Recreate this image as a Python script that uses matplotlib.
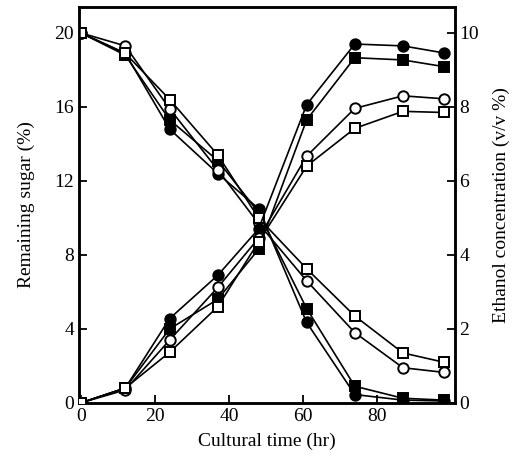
import matplotlib
matplotlib.use("Agg")
import matplotlib.pyplot as plt

plt.rcParams['font.family'] = ['Liberation Serif', 'DejaVu Serif']

time = [0, 12, 24, 37, 48, 61, 74, 87, 98]

# Remaining sugar (%) - left axis
sugar_fc = [20.0, 18.9, 14.8, 12.4, 10.5, 4.35, 0.45, 0.15, 0.1]   # filled circle
sugar_fs = [20.0, 18.8, 15.3, 13.1, 10.3, 5.1, 0.9, 0.25, 0.15]    # filled square
sugar_oc = [20.0, 19.3, 15.9, 12.6, 9.7, 6.6, 3.8, 1.9, 1.65]      # open circle
sugar_os = [20.0, 18.9, 16.4, 13.4, 10.0, 7.25, 4.7, 2.7, 2.2]     # open square

# Ethanol concentration (v/v %) - right axis
eth_fc = [0.0, 0.4, 2.28, 3.45, 4.7, 8.06, 9.7, 9.65, 9.46]
eth_fs = [0.0, 0.4, 2.0, 2.8, 4.15, 7.65, 9.33, 9.27, 9.09]
eth_oc = [0.0, 0.35, 1.7, 3.12, 4.45, 6.67, 7.96, 8.3, 8.22]
eth_os = [0.0, 0.4, 1.37, 2.6, 4.35, 6.4, 7.42, 7.88, 7.85]

x_ticks = [0, 20, 40, 60, 80]
left_ticks = [0, 4, 8, 12, 16, 20]
right_ticks = [0, 2, 4, 6, 8, 10]

fig = plt.figure(figsize=(5.30, 4.69), dpi=100)
ax = fig.add_axes([0.149, 0.141, 0.709, 0.844])
ax2 = ax.twinx()

styles = [
    (sugar_fc, eth_fc, 'o', 'black'),
    (sugar_fs, eth_fs, 's', 'black'),
    (sugar_oc, eth_oc, 'o', 'white'),
    (sugar_os, eth_os, 's', 'white'),
]
for s, e, m, fc in styles:
    ms = 7.5 if m == 'o' else 6.5
    ax.plot(time, s, color='black', lw=1.2, marker=m, ms=ms,
            mfc=fc, mec='black', mew=1.4, zorder=3)
    ax2.plot(time, e, color='black', lw=1.2, marker=m, ms=ms,
             mfc=fc, mec='black', mew=1.4, zorder=3)

ax.set_xlim(-0.5, 101)
ax.set_ylim(0, 21.4)
ax2.set_ylim(0, 10.7)

ax.set_xticks(x_ticks)
ax.set_yticks(left_ticks)
ax2.set_yticks(right_ticks)

for a in (ax, ax2):
    for sp in a.spines.values():
        sp.set_linewidth(1.8)
    a.tick_params(direction='in', length=6, width=1.3, labelsize=14)

ax.set_xlabel('Cultural time (hr)', fontsize=14, labelpad=6)
ax.set_ylabel('Remaining sugar (%)', fontsize=14, labelpad=14)
ax2.set_ylabel('Ethanol concentration (v/v %)', fontsize=14, labelpad=10)

fig.savefig('out.png', dpi=100)
